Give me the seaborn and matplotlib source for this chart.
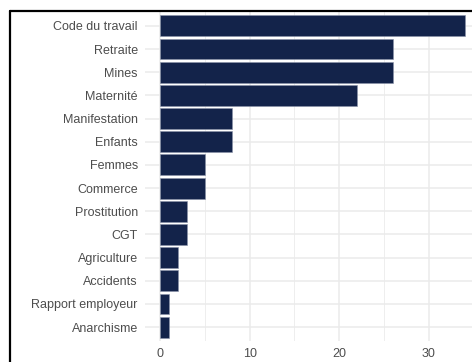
import pandas as pd
import matplotlib.pyplot as plt
import seaborn as sns
from matplotlib.lines import Line2D
from matplotlib.ticker import MultipleLocator

# --- données ---
themes = [
    "Code du travail",
    "Retraite",
    "Mines",
    "Maternité",
    "Manifestation",
    "Enfants",
    "Femmes",
    "Commerce",
    "Prostitution",
    "CGT",
    "Agriculture",
    "Accidents",
    "Rapport employeur",
    "Anarchisme",
]
counts = [34, 26, 26, 22, 8, 8, 5, 5, 3, 3, 2, 2, 1, 1]
x_ticks = [0, 10, 20, 30]

df = pd.DataFrame({"theme": themes, "n": counts})

sns.set_style("white")
plt.rcParams["font.family"] = ["Liberation Sans", "DejaVu Sans"]

W, H = 472, 362
fig = plt.figure(figsize=(W / 100, H / 100), dpi=100)

# panel placed in pixel coords (extends past the right edge like the crop)
px_left, px_right, px_top, px_bottom = 144.7, 480, 12, 341
ax = fig.add_axes([
    px_left / W,
    (H - px_bottom) / H,
    (px_right - px_left) / W,
    (px_bottom - px_top) / H,
])

sns.barplot(
    data=df,
    x="n",
    y="theme",
    order=themes,
    color="#13234a",
    saturation=1,
    width=0.9,
    edgecolor="#8a93a8",
    linewidth=0.4,
    ax=ax,
    zorder=3,
)

ax.set_xlim(-1.7, 35.7)
ax.set_ylim(len(themes) - 0.4, -0.6)
ax.set_xticks(x_ticks)
ax.xaxis.set_minor_locator(MultipleLocator(5))

ax.grid(True, which="major", color="#ebebeb", linewidth=1.1, zorder=0)
ax.grid(True, which="minor", axis="x", color="#ebebeb", linewidth=0.6, zorder=0)
ax.set_axisbelow(True)

for s in ax.spines.values():
    s.set_visible(False)
ax.set_xlabel("")
ax.set_ylabel("")
ax.tick_params(axis="both", which="both", length=0, labelsize=9, labelcolor="#4d4d4d")
ax.tick_params(axis="y", pad=5)
ax.tick_params(axis="x", pad=5)

# cadre noir de la capture
fig.add_artist(Line2D([10 / W, 1], [1 - 11 / H, 1 - 11 / H], color="black", linewidth=1.6))
fig.add_artist(Line2D([10 / W, 10 / W], [0, 1 - 11 / H], color="black", linewidth=1.6))

fig.savefig("out.png", dpi=100)
